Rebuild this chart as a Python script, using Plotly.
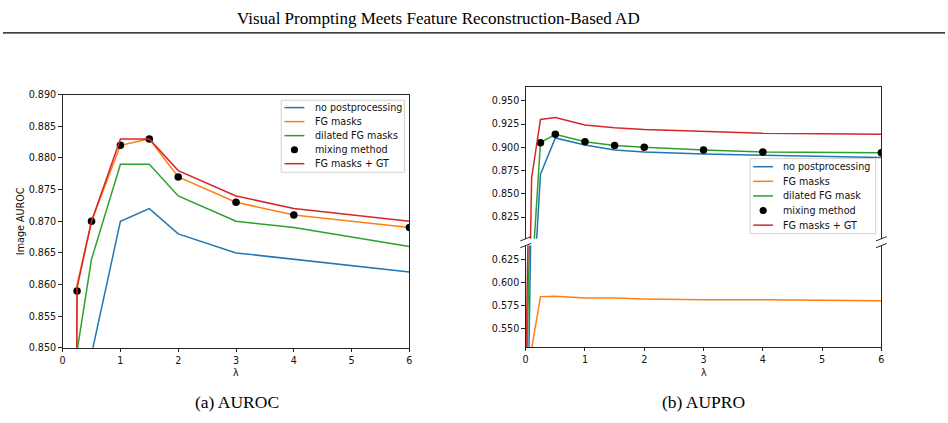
import plotly.graph_objects as go

# ---------------- data ----------------
LAMBDA = [0, 0.1, 0.25, 0.5, 1, 1.5, 2, 3, 4, 6]
X_TICKS = [0, 1, 2, 3, 4, 5, 6]

# (a) Image AUROC
auroc_no_post = [0.45, 0.60, 0.75, 0.849, 0.870, 0.872, 0.868, 0.865, 0.864, 0.862]
auroc_fg = [0.45, 0.60, 0.860, 0.870, 0.882, 0.883, 0.877, 0.873, 0.871, 0.869]
auroc_dilated = [0.45, 0.60, 0.8495, 0.864, 0.879, 0.879, 0.874, 0.870, 0.869, 0.866]
auroc_mixing = [None, None, 0.859, 0.870, 0.882, 0.883, 0.877, 0.873, 0.871, 0.869]
auroc_fg_gt = [0.45, 0.60, 0.8595, 0.870, 0.883, 0.883, 0.878, 0.874, 0.872, 0.870]
AUROC_TICKS = [0.850, 0.855, 0.860, 0.865, 0.870, 0.875, 0.880, 0.885, 0.890]

# (b) AUPRO (broken y axis)
aupro_no_post = [0.30, 0.71, 0.871, 0.910, 0.9025, 0.897, 0.895, 0.8927, 0.8913, 0.889]
aupro_fg = [0.30, 0.528, 0.5845, 0.585, 0.583, 0.583, 0.582, 0.581, 0.581, 0.580]
aupro_dilated = [0.45, 0.755, 0.905, 0.914, 0.906, 0.902, 0.900, 0.897, 0.895, 0.894]
aupro_mixing = [None, None, 0.905, 0.914, 0.906, 0.902, 0.900, 0.897, 0.895, 0.894]
aupro_fg_gt = [0.50, 0.867, 0.930, 0.932, 0.924, 0.921, 0.919, 0.917, 0.915, 0.914]
AUPRO_TICKS_UPPER = [0.825, 0.850, 0.875, 0.900, 0.925, 0.950]
AUPRO_TICKS_LOWER = [0.550, 0.575, 0.600, 0.625]

NAMES_A = ["no postprocessing", "FG masks", "dilated FG masks", "mixing method", "FG masks + GT"]
NAMES_B = ["no postprocessing", "FG masks", "dilated FG mask", "mixing method", "FG masks + GT"]
COLORS = ["#1f77b4", "#ff7f0e", "#2ca02c", "#000000", "#d62728"]
KINDS = ["line", "line", "line", "dot", "line"]

TITLE = "Visual Prompting Meets Feature Reconstruction-Based AD"
CAPTION_A = "(a) AUROC"
CAPTION_B = "(b) AUPRO"

# ---------------- layout helpers ----------------
W, H = 948, 423


def fx(p):
    return p / W


def fy(p):
    return 1 - p / H


TICK_FONT = dict(family="DejaVu Sans", size=9.6, color="#111111")
SERIF = "Liberation Serif"
AXIS_COLOR = "#262626"

fig = go.Figure()


def add_series(xaxis, yaxis, data, names):
    for vals, name, color, kind in zip(data, names, COLORS, KINDS):
        if kind == "dot":
            fig.add_trace(go.Scatter(
                x=LAMBDA, y=vals, mode="markers", name=name,
                marker=dict(color=color, size=7.5),
                xaxis=xaxis, yaxis=yaxis, showlegend=False, hoverinfo="skip"))
        else:
            fig.add_trace(go.Scatter(
                x=LAMBDA, y=vals, mode="lines", name=name,
                line=dict(color=color, width=1.5),
                xaxis=xaxis, yaxis=yaxis, showlegend=False, hoverinfo="skip"))


add_series("x", "y", [auroc_no_post, auroc_fg, auroc_dilated, auroc_mixing, auroc_fg_gt], NAMES_A)
# lower part of the broken axis (dots are outside it)
add_series("x2", "y2", [aupro_no_post, aupro_fg, aupro_dilated, [None] * len(LAMBDA), aupro_fg_gt], NAMES_B)
add_series("x3", "y3", [aupro_no_post, aupro_fg, aupro_dilated, aupro_mixing, aupro_fg_gt], NAMES_B)

common_x = dict(range=[0, 6], tickvals=X_TICKS, ticks="outside", ticklen=3.5, tickwidth=1,
                tickcolor=AXIS_COLOR, showline=True, linecolor=AXIS_COLOR, linewidth=1,
                showgrid=False, zeroline=False, tickfont=TICK_FONT)
common_y = dict(ticks="outside", ticklen=3.5, tickwidth=1, tickcolor=AXIS_COLOR,
                showline=True, linecolor=AXIS_COLOR, linewidth=1, mirror=True,
                showgrid=False, zeroline=False, tickfont=TICK_FONT, tickformat=".3f")

fig.update_layout(
    width=W, height=H, margin=dict(l=0, r=0, t=0, b=0),
    paper_bgcolor="white", plot_bgcolor="white", showlegend=False,
    xaxis=dict(domain=[fx(60), fx(409)], anchor="y", mirror=True, **common_x),
    yaxis=dict(domain=[fy(351), fy(91)], anchor="x", range=[0.850, 0.890],
               tickvals=AUROC_TICKS, **common_y),
    xaxis2=dict(domain=[fx(526), fx(884)], anchor="y2", **common_x),
    yaxis2=dict(domain=[fy(350), fy(246)], anchor="x2", range=[0.530, 0.6398],
                tickvals=AUPRO_TICKS_LOWER, **common_y),
    xaxis3=dict(domain=[fx(526), fx(884)], anchor="y3", range=[0, 6], side="top",
                showticklabels=False, ticks="", showline=True, linecolor=AXIS_COLOR,
                linewidth=1, showgrid=False, zeroline=False),
    yaxis3=dict(domain=[fy(239), fy(83)], anchor="x3", range=[0.8016, 0.965],
                tickvals=AUPRO_TICKS_UPPER, **common_y),
)

shapes = []
annotations = []

# running header
annotations.append(dict(x=fx(438), y=fy(13), xref="paper", yref="paper", text=TITLE,
                        showarrow=False, xanchor="center", yanchor="middle",
                        font=dict(family=SERIF, size=17, color="#000000")))
shapes.append(dict(type="line", xref="paper", yref="paper", x0=0, x1=1, y0=fy(27.5), y1=fy(27.5),
                   line=dict(color="#000000", width=1.2)))

# captions
for text, cx in [(CAPTION_A, 235), (CAPTION_B, 705)]:
    annotations.append(dict(x=fx(cx), y=fy(407), xref="paper", yref="paper", text=text,
                            showarrow=False, xanchor="center", yanchor="middle",
                            font=dict(family=SERIF, size=17.5, color="#000000")))

# axis titles
annotations.append(dict(x=fx(17), y=fy(221), xref="paper", yref="paper", text="Image AUROC",
                        showarrow=False, textangle=-90, xanchor="center", yanchor="middle",
                        font=TICK_FONT))
for cx in [234.5, 705]:
    annotations.append(dict(x=fx(cx), y=fy(376), xref="paper", yref="paper", text="λ",
                            showarrow=False, xanchor="center", yanchor="middle", font=TICK_FONT))

# break marks of the broken axis
for sx in [526, 884]:
    for sy in [239, 246]:
        shapes.append(dict(type="line", xref="paper", yref="paper",
                           x0=fx(sx - 5.4), y0=fy(sy + 2.2), x1=fx(sx + 5.4), y1=fy(sy - 2.2),
                           line=dict(color=AXIS_COLOR, width=1)))


def add_legend(left, top, width, height, first, gap, names):
    shapes.append(dict(type="rect", xref="paper", yref="paper", layer="above",
                       x0=fx(left), x1=fx(left + width), y0=fy(top + height), y1=fy(top),
                       line=dict(color="#d0d0d0", width=1), fillcolor="rgba(255,255,255,0.9)"))
    for i, (name, color, kind) in enumerate(zip(names, COLORS, KINDS)):
        yc = top + first + i * gap
        if kind == "dot":
            r = 3.6
            shapes.append(dict(type="circle", xref="paper", yref="paper", layer="above",
                               x0=fx(left + 13.3 - r), x1=fx(left + 13.3 + r),
                               y0=fy(yc + r), y1=fy(yc - r),
                               fillcolor=color, line=dict(color=color, width=0)))
        else:
            shapes.append(dict(type="line", xref="paper", yref="paper", layer="above",
                               x0=fx(left + 3.3), x1=fx(left + 23.3), y0=fy(yc), y1=fy(yc),
                               line=dict(color=color, width=1.5)))
        annotations.append(dict(x=fx(left + 31.7), y=fy(yc), xref="paper", yref="paper",
                                text=name, showarrow=False, xanchor="left", yanchor="middle",
                                font=TICK_FONT))


add_legend(280, 96.7, 124, 74, 7.6, 14.4, NAMES_A)
add_legend(751.7, 156.7, 126.6, 77, 8.3, 15.0, NAMES_B)

fig.update_layout(shapes=shapes, annotations=annotations)
fig.write_html("out.html")
